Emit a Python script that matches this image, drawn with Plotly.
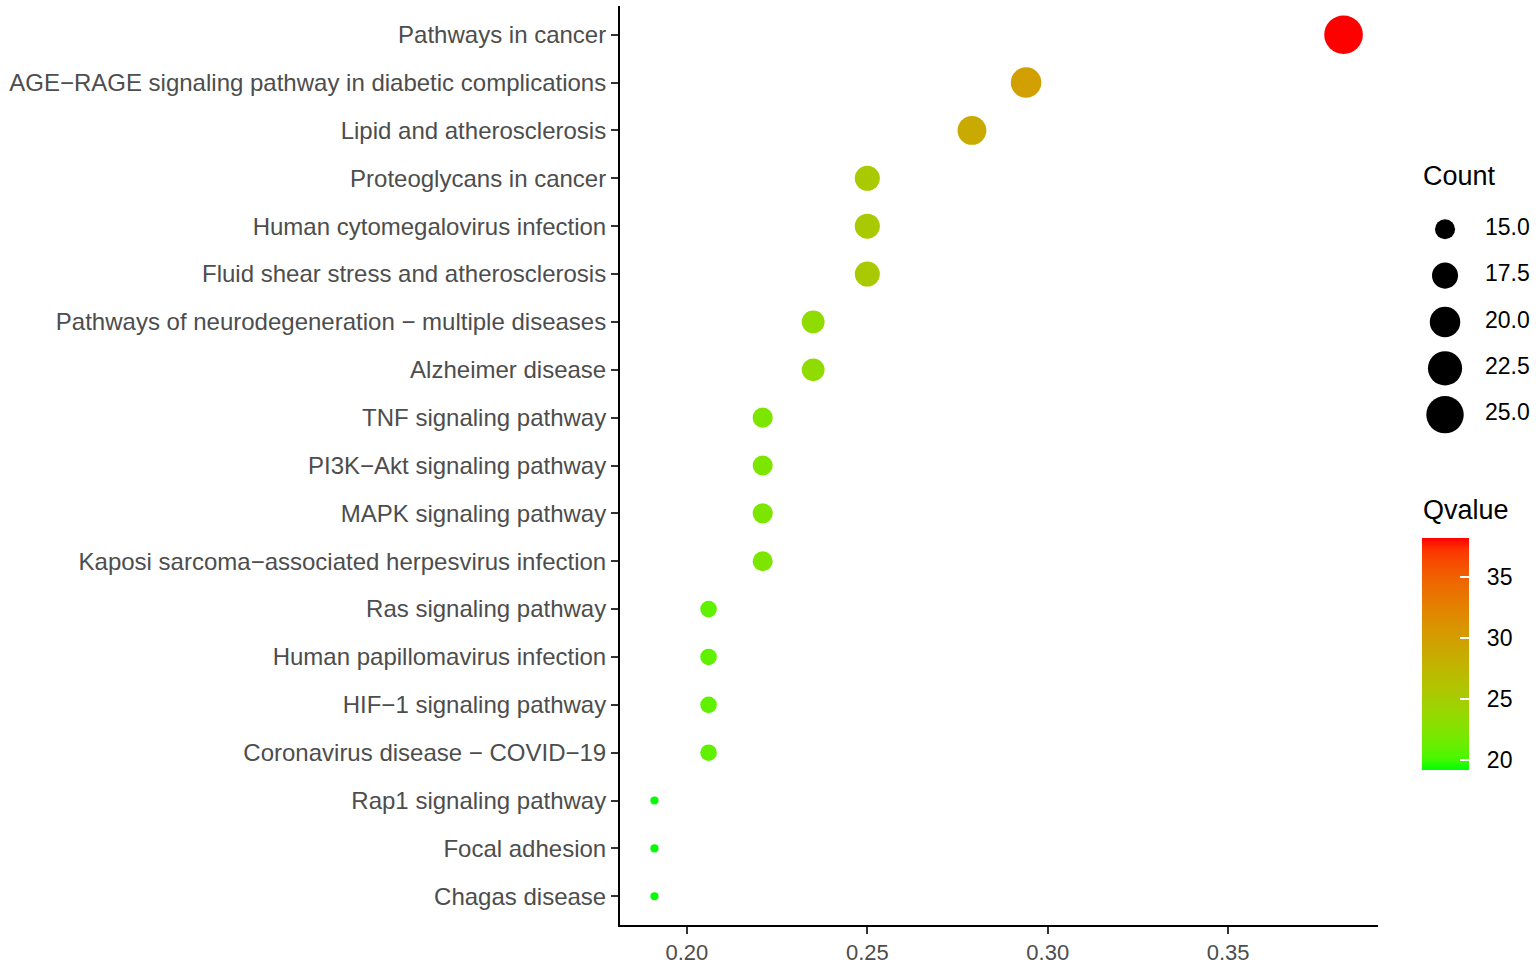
import numpy as np
import plotly.graph_objects as go

# ---------------- data ----------------
pathways = [
    "Pathways in cancer",
    "AGE\u2212RAGE signaling pathway in diabetic complications",
    "Lipid and atherosclerosis",
    "Proteoglycans in cancer",
    "Human cytomegalovirus infection",
    "Fluid shear stress and atherosclerosis",
    "Pathways of neurodegeneration \u2212 multiple diseases",
    "Alzheimer disease",
    "TNF signaling pathway",
    "PI3K\u2212Akt signaling pathway",
    "MAPK signaling pathway",
    "Kaposi sarcoma\u2212associated herpesvirus infection",
    "Ras signaling pathway",
    "Human papillomavirus infection",
    "HIF\u22121 signaling pathway",
    "Coronavirus disease \u2212 COVID\u221219",
    "Rap1 signaling pathway",
    "Focal adhesion",
    "Chagas disease",
]
gene_ratio = [0.382, 0.294, 0.279, 0.250, 0.250, 0.250, 0.235, 0.235,
              0.221, 0.221, 0.221, 0.221, 0.206, 0.206, 0.206, 0.206,
              0.191, 0.191, 0.191]
count = [26, 20, 19, 17, 17, 17, 16, 16, 15, 15, 15, 15, 14, 14, 14, 14, 13, 13, 13]
qvalue = [38.2, 29.9, 28.7, 25.4, 25.4, 25.4, 23.4, 23.4, 22.2, 22.2, 22.2, 22.2,
          20.9, 20.9, 20.9, 20.9, 19.2, 19.2, 19.2]
x_ticks = [0.20, 0.25, 0.30, 0.35]
count_legend = [15.0, 17.5, 20.0, 22.5, 25.0]
q_ticks = [20, 25, 30, 35]

# ---------------- styling helpers ----------------
def srgb_to_lab(rgb):
    c = np.array(rgb, dtype=float) / 255.0
    c = np.where(c > 0.04045, ((c + 0.055) / 1.055) ** 2.4, c / 12.92)
    M = np.array([[0.4124, 0.3576, 0.1805],
                  [0.2126, 0.7152, 0.0722],
                  [0.0193, 0.1192, 0.9505]])
    xyz = M @ c / np.array([0.95047, 1.0, 1.08883])
    f = np.where(xyz > 0.008856, np.cbrt(xyz), 7.787 * xyz + 16 / 116)
    return np.array([116 * f[1] - 16, 500 * (f[0] - f[1]), 200 * (f[1] - f[2])])

def lab_to_srgb(lab):
    L, a, b = lab
    fy = (L + 16) / 116
    fx = fy + a / 500
    fz = fy - b / 200
    f = np.array([fx, fy, fz])
    xyz = np.where(f ** 3 > 0.008856, f ** 3, (f - 16 / 116) / 7.787)
    xyz = xyz * np.array([0.95047, 1.0, 1.08883])
    Mi = np.array([[3.2406, -1.5372, -0.4986],
                   [-0.9689, 1.8758, 0.0415],
                   [0.0557, -0.2040, 1.0570]])
    c = Mi @ xyz
    c = np.clip(c, 0, 1)
    c = np.where(c > 0.0031308, 1.055 * c ** (1 / 2.4) - 0.055, 12.92 * c)
    c = np.clip(np.round(c * 255), 0, 255).astype(int)
    return "rgb({},{},{})".format(*c)

lab_lo = srgb_to_lab((0, 255, 0))
lab_hi = srgb_to_lab((255, 0, 0))
colorscale = [[t, lab_to_srgb(lab_lo + (lab_hi - lab_lo) * t)] for t in np.linspace(0, 1, 21)]

cmin_c, cmax_c = min(count), max(count)

def size_px(c):
    return 6.1 * (1.33 + 5.0 * np.sqrt((np.array(c, dtype=float) - cmin_c) / (cmax_c - cmin_c)))

xmin, xmax = min(gene_ratio), max(gene_ratio)
xpad = 0.05 * (xmax - xmin)
qmin, qmax = min(qvalue), max(qvalue)

W, H = 1536, 965
ML, MR, MT, MB = 620, 0, 6, 37
PW, PH = W - ML - MR, H - MT - MB

def px_x(p):
    return (p - ML) / PW

def px_y(p):
    return (H - MB - p) / PH

FONT = "Liberation Sans, Arial, sans-serif"

# colour bar geometry (pixels)
CB_L, CB_R, CB_T, CB_B = 1422, 1469, 540, 772
NB = "\u00a0\u00a0"

fig = go.Figure()

fig.add_trace(go.Scatter(
    x=gene_ratio, y=pathways, mode="markers",
    marker=dict(size=size_px(count), color=qvalue, colorscale=colorscale,
                cmin=qmin, cmax=qmax, line=dict(width=0), opacity=1,
                colorbar=dict(
                    title=dict(text=""),
                    x=px_x(CB_L), xanchor="left", xpad=0,
                    y=px_y((CB_T + CB_B) / 2), yanchor="middle", ypad=0,
                    thickness=CB_R - CB_L, len=CB_B - CB_T, lenmode="pixels",
                    tickvals=q_ticks, ticktext=[NB + str(v) for v in q_ticks],
                    ticks="inside", ticklen=9,
                    tickcolor="white", tickwidth=1.5,
                    tickfont=dict(size=23, color="black", family=FONT),
                    outlinewidth=0,
                )),
    showlegend=False, hoverinfo="x+y",
))

# size legend (drawn on its own small axes)
idx = list(range(len(count_legend)))
fig.add_trace(go.Scatter(
    x=[0] * len(count_legend), y=idx, mode="markers",
    marker=dict(size=size_px(count_legend), color="#000000", opacity=1, line=dict(width=0)),
    xaxis="x2", yaxis="y2", showlegend=False, hoverinfo="skip",
))
fig.add_trace(go.Scatter(
    x=[0.294] * len(count_legend), y=idx, mode="text",
    text=["{:.1f}".format(v) for v in count_legend], textposition="middle right",
    textfont=dict(size=23, color="black", family=FONT),
    xaxis="x2", yaxis="y2", showlegend=False, hoverinfo="skip",
))

fig.add_annotation(text="Count", x=px_x(1421), y=px_y(177), xref="paper", yref="paper",
                   xanchor="left", yanchor="middle", showarrow=False,
                   font=dict(size=27, color="black", family=FONT))
fig.add_annotation(text="Qvalue", x=px_x(1421), y=px_y(512), xref="paper", yref="paper",
                   xanchor="left", yanchor="middle", showarrow=False,
                   font=dict(size=27, color="black", family=FONT))

fig.update_layout(
    width=W, height=H,
    margin=dict(l=ML, r=MR, t=MT, b=MB),
    paper_bgcolor="white", plot_bgcolor="white",
    font=dict(family=FONT),
    xaxis=dict(domain=[0, (1378 - ML) / PW], range=[xmin - xpad, xmax + xpad],
               tickvals=x_ticks, tickformat=".2f",
               showgrid=False, zeroline=False,
               showline=True, linecolor="black", linewidth=2,
               ticks="outside", ticklen=7, tickwidth=2, tickcolor="#333333",
               tickfont=dict(size=22, color="#4D4D4D", family=FONT)),
    yaxis=dict(type="category", categoryorder="array", categoryarray=pathways,
               range=[len(pathways) - 0.4, -0.6],
               showgrid=False, zeroline=False,
               showline=True, linecolor="black", linewidth=2,
               ticks="outside", ticklen=7, tickwidth=2, tickcolor="#333333",
               tickfont=dict(size=24, color="#4D4D4D", family=FONT)),
    xaxis2=dict(domain=[px_x(1400), 1.0], range=[-0.331, 0.669], visible=False, anchor="y2"),
    yaxis2=dict(domain=[px_y(442), px_y(202)], range=[4 + 26 / 46.5, -28 / 46.5],
                visible=False, anchor="x2"),
)

fig.write_html("out.html", config={"displayModeBar": False},
               post_script="document.body.style.margin='0';document.body.style.overflow='hidden';")
